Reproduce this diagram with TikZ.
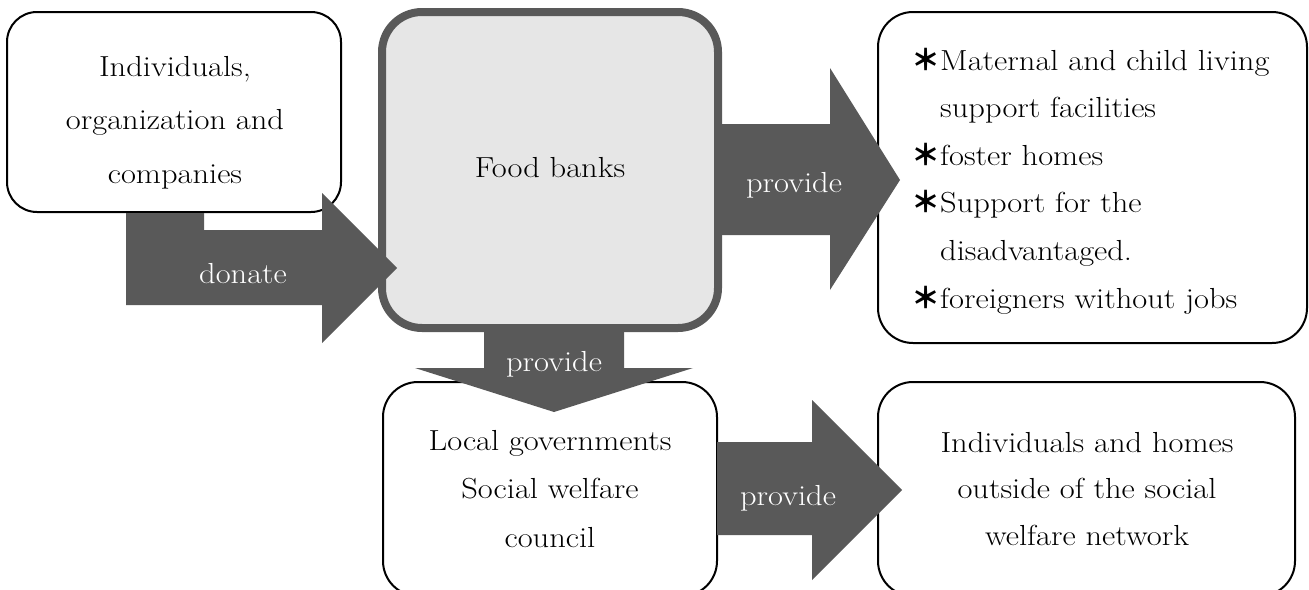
\documentclass[tikz,border=0pt]{standalone}
\usepackage{fontspec}
\setmainfont{Latin Modern Roman}[FakeStretch=1.12]
\newfontfamily\cjk{Noto Sans CJK JP}
\usetikzlibrary{calc}
\definecolor{arrowgray}{HTML}{595959}
\definecolor{bankfill}{HTML}{E6E6E6}
\tikzset{
  box/.style={draw=black, line width=2pt, fill=white, rounded corners=35pt, inner sep=0pt},
  bank/.style={draw=arrowgray, line width=8pt, fill=bankfill, rounded corners=40pt, inner sep=0pt},
  blockarrow/.style={fill=arrowgray, draw=none},
  boxtext/.style={inner sep=0pt, text=black},
  arrowtext/.style={inner sep=0pt, text=white, anchor=base, font=\fontsize{29}{35}\selectfont},
}
\newcommand{\bullast}{{\cjk\bfseries ＊}}
\begin{document}
\begin{tikzpicture}[x=1pt, y=-1pt]
  \useasboundingbox (0,0) rectangle (1309,589);
  \clip (0,0) rectangle (1309,589);

  % rounded boxes
  \node[box, rounded corners=30pt, minimum width=334pt, minimum height=200pt] (donors) at (174,112) {};
  \node[bank, minimum width=336pt, minimum height=316pt] (bank) at (550,170) {};
  \node[box, minimum width=429pt, minimum height=331pt] (facilities) at (1092.5,177.5) {};
  \node[box, minimum width=334pt, minimum height=214pt] (local) at (550,489) {};
  \node[box, minimum width=417pt, minimum height=214pt] (outside) at (1086.5,489) {};

  % block arrows
  \fill[blockarrow] (126,213) -- (204,213) -- (204,230) -- (322,230) -- (322,193)
    -- (397,268) -- (322,343) -- (322,305) -- (126,305) -- cycle;
  \fill[blockarrow] (718,124) -- (830,124) -- (830,68) -- (900,180)
    -- (830,290) -- (830,235) -- (718,235) -- cycle;
  \fill[blockarrow] (484,328) -- (624,328) -- (624,368) -- (693,368)
    -- (554,412) -- (415,368) -- (484,368) -- cycle;
  \fill[blockarrow] (717,442) -- (812,442) -- (812,400) -- (902,490)
    -- (812,580) -- (812,535) -- (717,535) -- cycle;

  % arrow labels
  \node[arrowtext] (donate) at (243,283) {donate};
  \node[arrowtext] (provideC) at (794,192) {provide};
  \node[arrowtext] (provideD) at (554,371) {provide};
  \node[arrowtext] (provideE) at (788,505) {provide};

  % box texts
  \node[boxtext, anchor=base, font=\fontsize{29}{53.5}\selectfont] (donorstext) at (175,76)
    {\begin{tabular}[t]{@{}c@{}}Individuals,\\organization and\\companies\end{tabular}};
  \node[boxtext, anchor=base, font=\fontsize{29}{35}\selectfont] (banktext) at (550,177) {Food banks};
  \node[boxtext, anchor=base west, font=\fontsize{29}{47.6}\selectfont] (facilitiestext) at (911,70)
    {\begin{tabular}[t]{@{}l@{}}\bullast Maternal and child living\\
      \hspace*{1em}support facilities\\
      \bullast foster homes\\
      \bullast Support for the\\
      \hspace*{1em}disadvantaged.\\
      \bullast foreigners without jobs\end{tabular}};
  \node[boxtext, anchor=base, font=\fontsize{29}{48.5}\selectfont] (localtext) at (550,450)
    {\begin{tabular}[t]{@{}c@{}}Local governments\\Social welfare\\council\end{tabular}};
  \node[boxtext, anchor=base, font=\fontsize{29}{46.5}\selectfont] (outsidetext) at (1087,452)
    {\begin{tabular}[t]{@{}c@{}}Individuals and homes\\outside of the social\\welfare network\end{tabular}};
\end{tikzpicture}
\end{document}
